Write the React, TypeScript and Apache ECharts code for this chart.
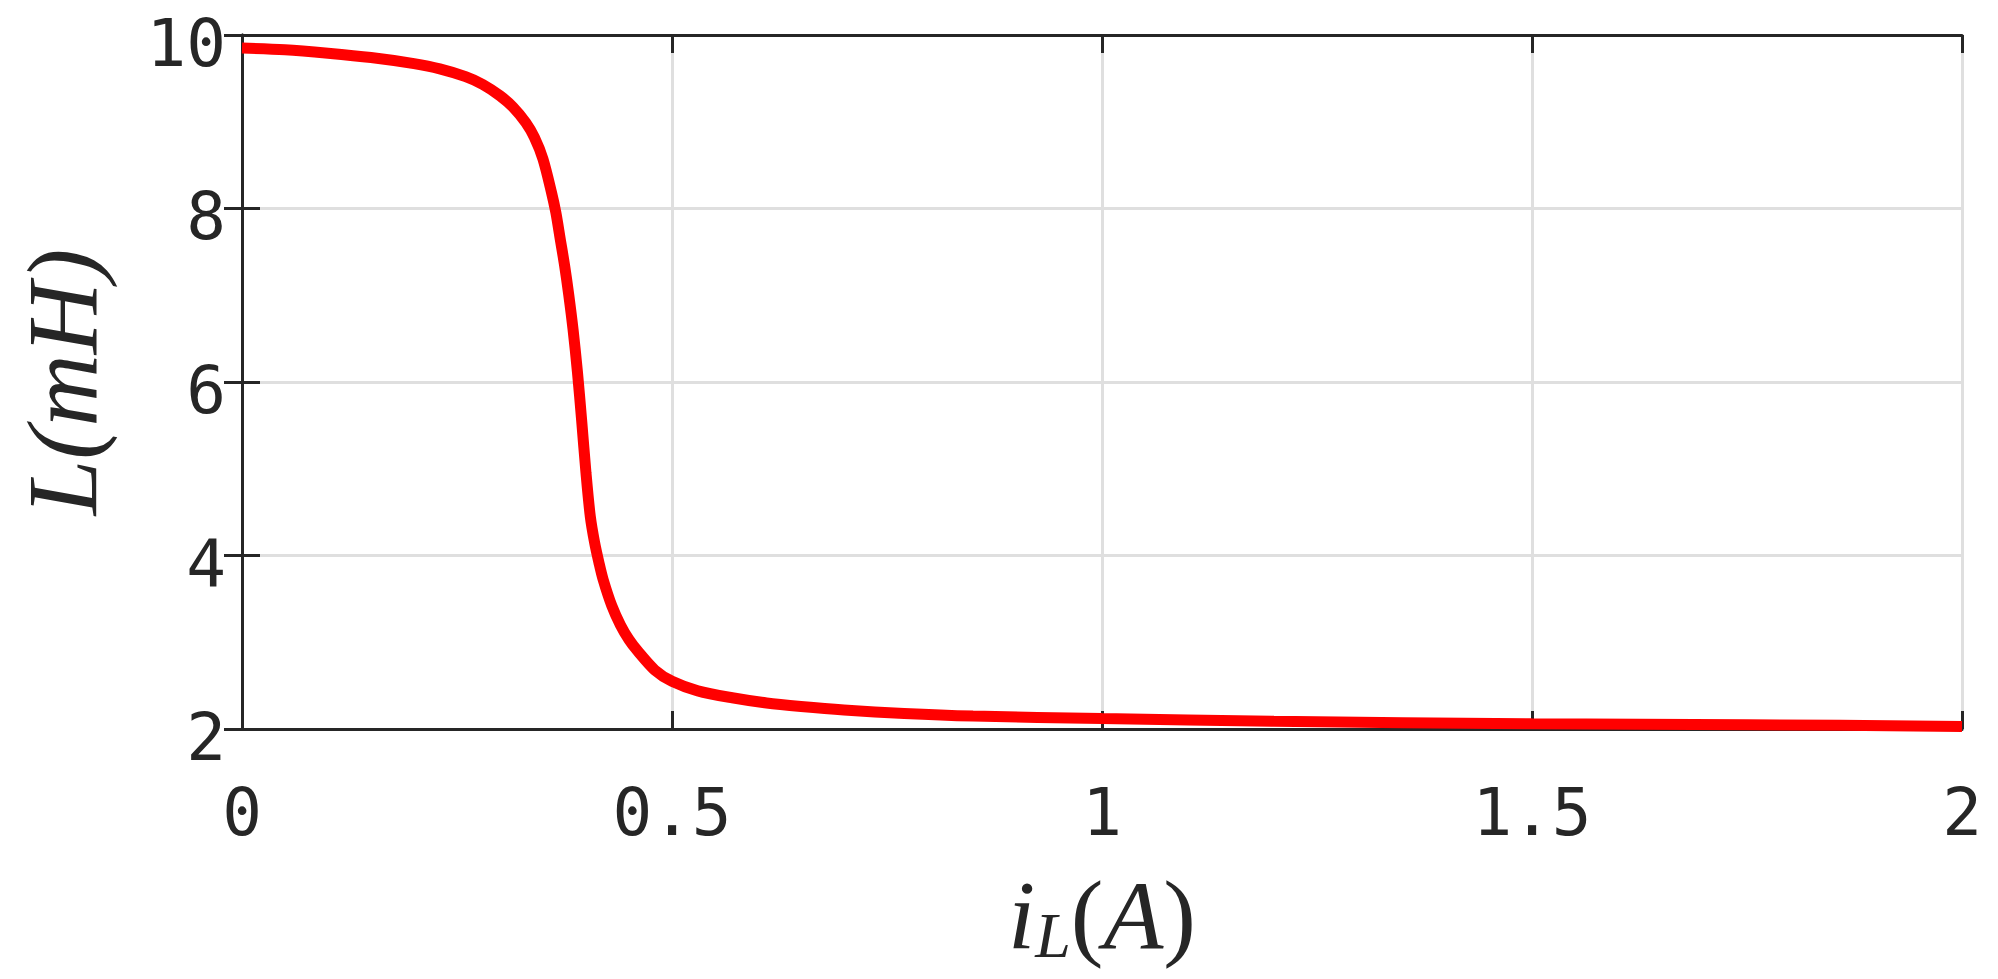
import React, { useEffect, useRef } from "react";
import * as echarts from "echarts";

const currentA = [
  0, 0.05, 0.1, 0.15, 0.2, 0.23, 0.26, 0.28, 0.3, 0.315, 0.33, 0.34, 0.35,
  0.36, 0.365, 0.37, 0.375, 0.38, 0.385, 0.39, 0.395, 0.4, 0.405, 0.41, 0.415,
  0.42, 0.43, 0.44, 0.45, 0.46, 0.48, 0.5, 0.53, 0.57, 0.61, 0.65, 0.7, 0.77,
  0.85, 1.0, 1.2, 1.5, 1.75, 2.0,
];
const inductanceMH = [
  9.85, 9.83, 9.79, 9.74, 9.67, 9.61, 9.52, 9.43, 9.3, 9.17, 8.99, 8.82, 8.57,
  8.18, 7.95, 7.65, 7.35, 7.0, 6.6, 6.12, 5.55, 4.95, 4.45, 4.15, 3.92, 3.72,
  3.42, 3.2, 3.03, 2.9, 2.68, 2.55, 2.44, 2.36, 2.3, 2.26, 2.22, 2.18, 2.15,
  2.12, 2.09, 2.06, 2.05, 2.03,
];
const xTicks = [0, 0.5, 1, 1.5, 2];
const yTicks = [2, 4, 6, 8, 10];

const AXIS_COLOR = "#262626";
const GRID_COLOR = "#dfdfdf";
const MONO = "'DejaVu Sans Mono', monospace";
const SERIF = "'Liberation Serif', 'DejaVu Serif', serif";

export default function App() {
  const ref = useRef<HTMLDivElement>(null);
  useEffect(() => {
    document.body.style.margin = "0";
    if (!ref.current) return;
    const chart = echarts.init(ref.current, null, { renderer: "svg" });
    const data = currentA.map((x, i) => [x, inductanceMH[i]]);
    const baseX = {
      type: "value" as const,
      min: xTicks[0],
      max: xTicks[xTicks.length - 1],
      interval: 0.5,
      axisLine: { show: true, lineStyle: { color: AXIS_COLOR, width: 3 } },
      axisTick: { show: true, inside: true, length: 18, lineStyle: { color: AXIS_COLOR, width: 3 } },
    };
    const baseY = {
      type: "value" as const,
      min: yTicks[0],
      max: yTicks[yTicks.length - 1],
      interval: 2,
      axisLine: { show: true, lineStyle: { color: AXIS_COLOR, width: 3 } },
      axisTick: { show: true, inside: true, length: 18, lineStyle: { color: AXIS_COLOR, width: 3 } },
    };
    chart.setOption({
      animation: false,
      backgroundColor: "#ffffff",
      grid: { left: 242, right: 36, top: 35, bottom: 250, containLabel: false },
      xAxis: [
        {
          ...baseX,
          position: "bottom",
          axisLabel: {
            show: true,
            fontFamily: MONO,
            fontSize: 66,
            color: AXIS_COLOR,
            margin: 50,
            formatter: (v: number) => String(v),
          },
          splitLine: { show: true, lineStyle: { color: GRID_COLOR, width: 3 } },
          name: "{i|i}{s|L}{p|(}{i|A}{p|)}",
          nameLocation: "middle",
          nameGap: 134,
          nameTextStyle: {
            rich: {
              i: { fontFamily: SERIF, fontStyle: "italic", fontSize: 98, color: AXIS_COLOR, lineHeight: 104 },
              p: { fontFamily: SERIF, fontSize: 98, color: AXIS_COLOR, lineHeight: 104 },
              s: { fontFamily: SERIF, fontStyle: "italic", fontSize: 64, color: AXIS_COLOR, lineHeight: 60, verticalAlign: "bottom" },
            },
          },
        },
        {
          ...baseX,
          position: "top",
          axisLabel: { show: false },
          splitLine: { show: false },
        },
      ],
      yAxis: [
        {
          ...baseY,
          position: "left",
          axisLabel: {
            show: true,
            fontFamily: MONO,
            fontSize: 66,
            color: AXIS_COLOR,
            margin: 16,
            verticalAlign: "top",
            lineHeight: 16,
          },
          splitLine: { show: true, lineStyle: { color: GRID_COLOR, width: 3 } },
          name: "L(mH)",
          nameLocation: "middle",
          nameGap: 130,
          nameTextStyle: {
            fontFamily: SERIF,
            fontStyle: "italic",
            fontSize: 100,
            color: AXIS_COLOR,
          },
        },
        {
          ...baseY,
          position: "right",
          axisLabel: { show: false },
          splitLine: { show: false },
        },
      ],
      series: [
        {
          type: "line",
          data,
          xAxisIndex: 0,
          yAxisIndex: 0,
          showSymbol: false,
          symbol: "none",
          smooth: 0.3,
          clip: false,
          lineStyle: { color: "#ff0000", width: 11 },
          z: 5,
        },
      ],
    });
    return () => chart.dispose();
  }, []);
  return <div ref={ref} style={{ width: 1998, height: 979 }} />;
}
